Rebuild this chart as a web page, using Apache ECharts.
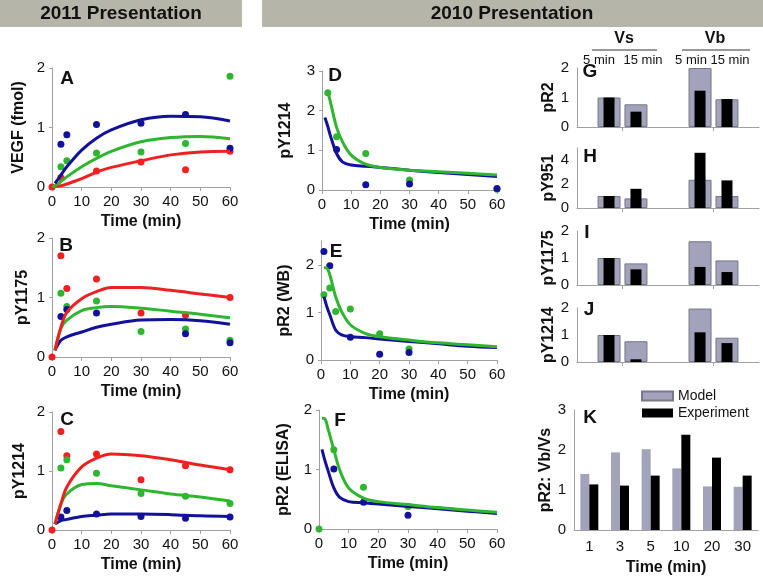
<!DOCTYPE html>
<html><head><meta charset="utf-8">
<script src="https://cdn.jsdelivr.net/npm/echarts@6/dist/echarts.min.js"></script>
<style>html,body{margin:0;padding:0;background:#fff}#c{width:763px;height:579px}</style>
</head><body><div id="c"></div>
<script>
// ---------- DATA ----------
const xTicks = [0, 10, 20, 30, 40, 50, 60];

// Panel A: VEGF (fmol)
const A_fitTime = [0, 1, 3, 5, 10, 15, 20, 30, 40, 50, 60];
const A_fitBlue = [null, 0.06, 0.20, 0.34, 0.62, 0.82, 0.96, 1.13, 1.19, 1.18, 1.11];
const A_fitGreen = [0, 0.02, 0.09, 0.17, 0.34, 0.48, 0.60, 0.76, 0.83, 0.85, 0.81];
const A_fitRed = [0, 0.01, 0.02, 0.05, 0.14, 0.25, 0.33, 0.44, 0.54, 0.59, 0.60];
const A_dataTime = [0, 3, 5, 15, 30, 45, 60];
const A_dataBlue = [null, 0.72, 0.88, 1.05, 1.07, 1.22, 0.65];
const A_dataGreen = [null, 0.34, 0.44, 0.57, 0.59, 0.73, 1.86];
const A_dataRed = [0, 0.16, null, 0.27, 0.42, 0.29, 0.60];

// Panel B: pY1175
const B_fitTime = [1, 3, 5, 10, 15, 20, 30, 40, 50, 60];
const B_fitRed = [0.11, 0.50, 0.75, 0.98, 1.10, 1.17, 1.17, 1.12, 1.06, 1.00];
const B_fitGreen = [0.11, 0.48, 0.62, 0.78, 0.83, 0.85, 0.82, 0.77, 0.72, 0.66];
const B_fitBlue = [0.11, 0.28, 0.34, 0.42, 0.50, 0.55, 0.62, 0.63, 0.61, 0.55];
const B_dataTime = [0, 3, 5, 15, 30, 45, 60];
const B_dataRed = [0, 1.70, 1.15, 1.31, 0.74, 0.70, 1.00];
const B_dataGreen = [null, 1.07, 0.85, 0.94, 0.43, 0.47, 0.28];
const B_dataBlue = [null, 0.68, 0.80, 0.74, null, 0.39, 0.24];

// Panel C: pY1214
const C_fitTime = [1, 3, 5, 10, 15, 20, 30, 40, 50, 60];
const C_fitRed = [0.10, 0.44, 0.73, 1.07, 1.22, 1.29, 1.26, 1.19, 1.10, 1.02];
const C_fitGreen = [0.10, 0.44, 0.61, 0.77, 0.79, 0.75, 0.68, 0.61, 0.56, 0.49];
const C_fitBlue = [0.10, 0.16, 0.18, 0.23, 0.25, 0.27, 0.27, 0.26, 0.24, 0.23];
const C_dataTime = [0, 3, 5, 15, 30, 45, 60];
const C_dataRed = [0, 1.67, 1.26, 1.29, 0.85, 1.09, 1.02];
const C_dataGreen = [null, 1.05, 1.19, 0.96, 0.62, 0.57, 0.45];
const C_dataBlue = [null, 0.22, 0.33, 0.27, 0.23, 0.20, 0.22];

// Panel D: pY1214 (2010)
const D_fitTime = [1, 2, 3, 5, 7, 10, 15, 20, 30, 40, 50, 60];
const D_fitGreen = [2.45, 2.43, 2.18, 1.58, 1.22, 0.88, 0.65, 0.57, 0.50, 0.46, 0.42, 0.38];
const D_fitBlue = [1.83, 1.60, 1.34, 0.92, 0.71, 0.63, 0.60, 0.57, 0.50, 0.44, 0.39, 0.34];
const D_dataTime = [2, 5, 15, 30, 60];
const D_dataGreen = [2.45, 1.34, 0.92, 0.25, 0.02];
const D_dataBlue = [null, 1.02, 0.13, 0.15, 0.04];

// Panel E: pR2 (WB)
const E_fitTime = [1, 2, 3, 5, 7, 10, 15, 20, 30, 40, 50, 60];
const E_fitGreen = [1.94, 1.93, 1.79, 1.33, 1.02, 0.74, 0.56, 0.49, 0.42, 0.36, 0.32, 0.28];
const E_fitBlue = [1.33, 1.12, 0.95, 0.63, 0.53, 0.49, 0.47, 0.44, 0.39, 0.34, 0.29, 0.26];
const E_dataTime = [1, 3, 5, 10, 20, 30];
const E_dataBlue = [2.28, 1.98, null, 0.48, 0.12, 0.16];
const E_dataGreen = [1.37, 1.51, 1.02, 1.07, 0.55, 0.23];

// Panel F: pR2 (ELISA)
const F_fitTime = [1, 2, 3, 5, 7, 10, 15, 20, 30, 40, 50, 60];
const F_fitGreen = [1.86, 1.85, 1.69, 1.33, 0.99, 0.69, 0.52, 0.46, 0.41, 0.36, 0.32, 0.28];
const F_fitBlue = [1.34, 1.15, 0.99, 0.69, 0.53, 0.46, 0.44, 0.42, 0.38, 0.34, 0.30, 0.26];
const F_dataTime = [0, 5, 15, 30];
const F_dataGreen = [0, 1.33, 0.70, 0.38];
const F_dataBlue = [null, 1.01, 0.45, 0.23];

// Panels G-J: order = [Vs 5 min, Vs 15 min, Vb 5 min, Vb 15 min]
const vsvbCategories = ['Vs', 'Vb'];
const G_model = [1.00, 0.77, 2.00, 0.94];
const G_exp = [1.00, 0.52, 1.23, 0.95];
const H_model = [1.00, 0.80, 2.35, 1.00];
const H_exp = [1.00, 1.60, 4.60, 2.30];
const I_model = [1.00, 0.80, 1.62, 0.91];
const I_exp = [1.00, 0.58, 0.67, 0.48];
const J_model = [1.00, 0.77, 1.98, 0.90];
const J_exp = [1.00, 0.10, 1.10, 0.70];

// Panel K: pR2 Vb/Vs
const K_times = ['1', '3', '5', '10', '20', '30'];
const K_model = [1.40, 1.94, 2.02, 1.54, 1.09, 1.08];
const K_exp = [1.14, 1.11, 1.36, 2.38, 1.81, 1.36];

// ---------- STYLE / LAYOUT ----------
const FONT = '"Liberation Sans", Arial, sans-serif';
const BLUE = '#11119a', GREEN = '#2fb52f', RED = '#ee2020';
const GREY_BAR = '#a2a2bb', AXIS = '#a0a0a0', TXT = '#111';

const grids = [
  {left: 52, top: 68, width: 178, height: 119},   // A
  {left: 52, top: 238, width: 178, height: 119},  // B
  {left: 52, top: 412, width: 178, height: 118},  // C
  {left: 322, top: 71, width: 175, height: 119},  // D
  {left: 321, top: 241, width: 176, height: 119}, // E
  {left: 319, top: 410, width: 178, height: 119}, // F
  {left: 577, top: 68, width: 182, height: 59},   // G
  {left: 577, top: 148, width: 182, height: 60},  // H
  {left: 577, top: 231, width: 182, height: 54},  // I
  {left: 577, top: 308, width: 182, height: 54},  // J
  {left: 574, top: 410, width: 184, height: 120}  // K
];

const linePanels = [
  {name: 'VEGF (fmol)', max: 2, gap: 25, fitT: A_fitTime, fits: [[A_fitRed, RED], [A_fitGreen, GREEN], [A_fitBlue, BLUE]],
   dT: A_dataTime, dots: [[A_dataRed, RED], [A_dataGreen, GREEN], [A_dataBlue, BLUE]]},
  {name: 'pY1175', max: 2, gap: 21, fitT: B_fitTime, fits: [[B_fitBlue, BLUE], [B_fitGreen, GREEN], [B_fitRed, RED]],
   dT: B_dataTime, dots: [[B_dataRed, RED], [B_dataGreen, GREEN], [B_dataBlue, BLUE]]},
  {name: 'pY1214', max: 2, gap: 24, fitT: C_fitTime, fits: [[C_fitBlue, BLUE], [C_fitGreen, GREEN], [C_fitRed, RED]],
   dT: C_dataTime, dots: [[C_dataRed, RED], [C_dataGreen, GREEN], [C_dataBlue, BLUE]]},
  {name: 'pY1214', max: 3, gap: 28, fitT: D_fitTime, fits: [[D_fitBlue, BLUE], [D_fitGreen, GREEN]],
   dT: D_dataTime, dots: [[D_dataGreen, GREEN], [D_dataBlue, BLUE]]},
  {name: 'pR2 (WB)', max: 2.5, gap: 28, fitT: E_fitTime, fits: [[E_fitBlue, BLUE], [E_fitGreen, GREEN]],
   dT: E_dataTime, dots: [[E_dataGreen, GREEN], [E_dataBlue, BLUE]]},
  {name: 'pR2 (ELISA)', max: 2, gap: 27, fitT: F_fitTime, fits: [[F_fitBlue, BLUE], [F_fitGreen, GREEN]],
   dT: F_dataTime, dots: [[F_dataGreen, GREEN], [F_dataBlue, BLUE]]}
];

const barPanels = [
  {name: 'pR2', max: 2, interval: 1, model: G_model, exp: G_exp},
  {name: 'pY951', max: 5, interval: 2, model: H_model, exp: H_exp},
  {name: 'pY1175', max: 2, interval: 1, model: I_model, exp: I_exp},
  {name: 'pY1214', max: 2, interval: 1, model: J_model, exp: J_exp}
];

const axisLineStyle = {lineStyle: {color: AXIS, width: 1}};
const labelStyle = {color: TXT, fontSize: 15, fontFamily: FONT};
const nameStyle = {color: TXT, fontSize: 16, fontWeight: 'bold', fontFamily: FONT};

const xAxes = [], yAxes = [], series = [];

linePanels.forEach((p, i) => {
  xAxes.push({type: 'value', gridIndex: i, min: xTicks[0], max: xTicks[xTicks.length - 1], interval: xTicks[1] - xTicks[0],
    name: 'Time (min)', nameLocation: 'middle', nameGap: 27, nameTextStyle: nameStyle,
    axisLine: axisLineStyle, axisTick: {show: true, length: 4, lineStyle: {color: AXIS}},
    axisLabel: Object.assign({margin: 7}, labelStyle), splitLine: {show: false}});
  yAxes.push({type: 'value', gridIndex: i, min: 0, max: p.max, interval: 1,
    name: p.name, nameLocation: 'middle', nameGap: p.gap, nameTextStyle: nameStyle,
    axisLine: {show: true, lineStyle: {color: AXIS}}, axisTick: {show: true, length: 3, lineStyle: {color: AXIS}},
    axisLabel: Object.assign({margin: 7, showMaxLabel: Number.isInteger(p.max),
      formatter: v => Number.isInteger(v) ? String(v) : ''}, labelStyle), splitLine: {show: false}});
  p.fits.forEach(([vals, col]) => {
    series.push({type: 'line', xAxisIndex: i, yAxisIndex: i, smooth: 0.35, showSymbol: false, silent: true,
      lineStyle: {color: col, width: 3}, itemStyle: {color: col},
      data: p.fitT.map((t, k) => [t, vals[k]])});
  });
  p.dots.forEach(([vals, col]) => {
    series.push({type: 'scatter', xAxisIndex: i, yAxisIndex: i, symbolSize: 7, itemStyle: {color: col, opacity: 1},
      data: p.dT.map((t, k) => vals[k] == null ? null : [t, vals[k]]).filter(d => d)});
  });
});

barPanels.forEach((p, j) => {
  const g = 6 + j;
  const xa = xAxes.length;
  [0, 1].forEach(k => {
    xAxes.push({type: 'category', gridIndex: g, data: vsvbCategories, show: k === 0,
      axisLine: axisLineStyle, axisTick: {show: true, alignWithLabel: true, length: 4, lineStyle: {color: AXIS}},
      axisLabel: {show: false}});
  });
  yAxes.push({type: 'value', gridIndex: g, min: 0, max: p.max, interval: p.interval,
    name: p.name, nameLocation: 'middle', nameGap: 18, nameTextStyle: nameStyle,
    axisLine: {show: true, lineStyle: {color: AXIS}}, axisTick: {show: false},
    axisLabel: Object.assign({margin: 8, showMaxLabel: p.max % p.interval === 0}, labelStyle), splitLine: {show: false}});
  const m5 = [p.model[0], p.model[2]], m15 = [p.model[1], p.model[3]];
  const e5 = [p.exp[0], p.exp[2]], e15 = [p.exp[1], p.exp[3]];
  const mStyle = {color: GREY_BAR, borderColor: '#77778a', borderWidth: 1};
  series.push({type: 'bar', name: 'Model', xAxisIndex: xa, yAxisIndex: g, barWidth: 23, barGap: '17%', itemStyle: mStyle, data: m5});
  series.push({type: 'bar', name: 'Model', xAxisIndex: xa, yAxisIndex: g, barWidth: 23, barGap: '17%', itemStyle: mStyle, data: m15});
  series.push({type: 'bar', name: 'Experiment', xAxisIndex: xa + 1, yAxisIndex: g, barWidth: 11, barGap: '145%', itemStyle: {color: '#000'}, data: e5});
  series.push({type: 'bar', name: 'Experiment', xAxisIndex: xa + 1, yAxisIndex: g, barWidth: 11, barGap: '145%', itemStyle: {color: '#000'}, data: e15});
});

// Panel K
const kx = xAxes.length;
xAxes.push({type: 'category', gridIndex: 10, data: K_times, name: 'Time (min)', nameLocation: 'middle', nameGap: 30,
  nameTextStyle: nameStyle, axisLine: axisLineStyle, axisTick: {show: false},
  axisLabel: Object.assign({margin: 9}, labelStyle)});
yAxes.push({type: 'value', gridIndex: 10, min: 0, max: 3, interval: 1, name: 'pR2: Vb/Vs', nameLocation: 'middle', nameGap: 15,
  nameTextStyle: nameStyle, axisLine: {show: true, lineStyle: {color: AXIS}}, axisTick: {show: false},
  axisLabel: Object.assign({margin: 8}, labelStyle), splitLine: {show: false}});
series.push({type: 'bar', name: 'Model', xAxisIndex: kx, yAxisIndex: 10, barWidth: 9, barGap: '0%', itemStyle: {color: GREY_BAR}, data: K_model});
series.push({type: 'bar', name: 'Experiment', xAxisIndex: kx, yAxisIndex: 10, barWidth: 9, barGap: '0%', itemStyle: {color: '#000'}, data: K_exp});

// ---------- GRAPHIC TEXT ----------
const txt = (x, y, text, size, weight, align) => ({type: 'text', silent: true,
  style: {x, y, text, font: `${weight || 'normal'} ${size}px ${FONT}`, fill: TXT, align: align || 'center', verticalAlign: 'middle'}});
const letters = [['A', 67, 79], ['B', 66, 246], ['C', 67, 420], ['D', 335, 76], ['E', 336, 252], ['F', 340, 421],
  ['G', 590, 72], ['H', 590, 157], ['I', 587, 233], ['J', 589, 310], ['K', 590, 418]];
const graphic = [
  {type: 'rect', silent: true, shape: {x: 0, y: 0, width: 242, height: 27}, style: {fill: '#b5b5a9'}},
  {type: 'rect', silent: true, shape: {x: 262, y: 0, width: 501, height: 27}, style: {fill: '#b5b5a9'}},
  txt(121, 14, '2011 Presentation', 19, 'bold'),
  txt(512, 14, '2010 Presentation', 19, 'bold'),
  txt(624, 39, 'Vs', 16, 'bold'),
  txt(715, 39, 'Vb', 16, 'bold'),
  {type: 'line', silent: true, shape: {x1: 592, y1: 50, x2: 657, y2: 50}, style: {stroke: '#333', lineWidth: 1}},
  {type: 'line', silent: true, shape: {x1: 682, y1: 50, x2: 750, y2: 50}, style: {stroke: '#333', lineWidth: 1}},
  txt(599, 60, '5 min', 13), txt(643, 60, '15 min', 13), txt(691, 60, '5 min', 13), txt(730, 60, '15 min', 13)
].concat(letters.map(([t, x, y]) => txt(x, y, t, 19, 'bold')));

const chart = echarts.init(document.getElementById('c'), null, {renderer: 'canvas'});
chart.setOption({
  animation: false,
  backgroundColor: '#fff',
  textStyle: {fontFamily: FONT},
  grid: grids,
  xAxis: xAxes,
  yAxis: yAxes,
  series: series,
  legend: {data: ['Model', 'Experiment'], orient: 'vertical', left: 636, top: 384, icon: 'rect',
    itemWidth: 31, itemHeight: 9, itemGap: 3, selectedMode: false,
    textStyle: {color: TXT, fontSize: 14, fontFamily: FONT}},
  graphic: graphic
});
</script></body></html>
